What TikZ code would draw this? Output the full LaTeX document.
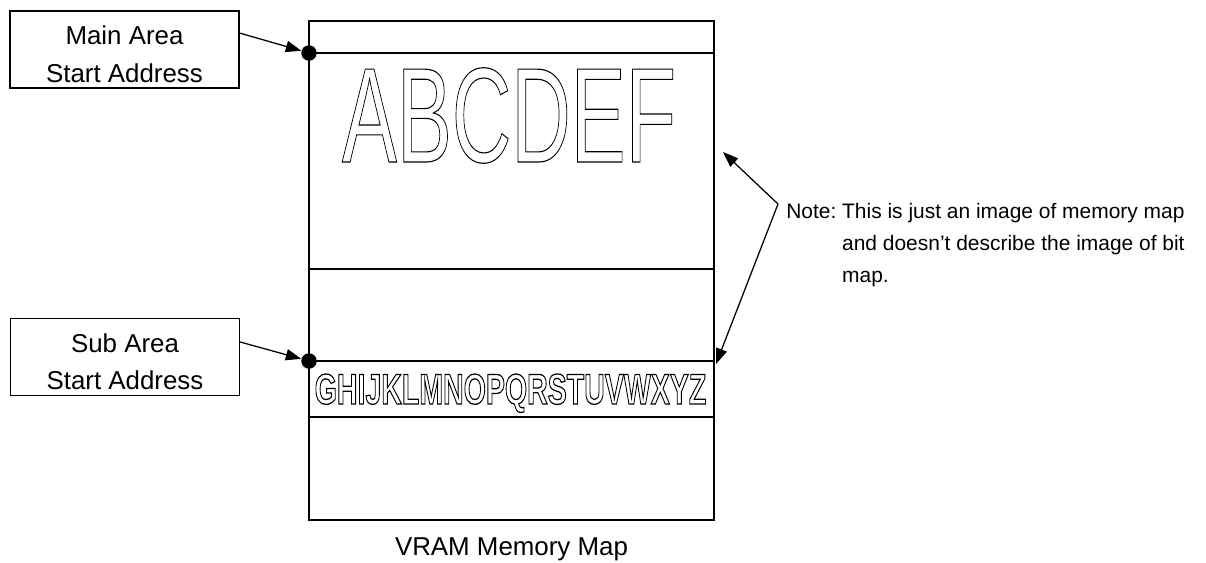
\documentclass[tikz,border=0pt]{standalone}
\usepackage{fontspec}
\setmainfont{Liberation Sans}
\usepackage{graphicx}
\usetikzlibrary{arrows.meta}

% outlined text
\newcommand\hollow[2][0.8]{\special{pdf:literal direct 1 Tr #1 w}#2\special{pdf:literal direct 0 Tr}}

\begin{document}
\begin{tikzpicture}[x=0.025cm, y=-0.025cm,
  lbl/.style={draw, line width=0.9pt, minimum width=5.725cm, minimum height=1.925cm,
    inner sep=0pt, align=center, font=\fontsize{18.4}{26.9}\selectfont},
  dot/.style={circle, fill=black, inner sep=0pt, minimum size=11pt},
  arr/.style={line width=0.9pt, -{Triangle[length=11pt, width=8pt]}}]

  \useasboundingbox (0,0) rectangle (1206,563);

  % Memory map
  \draw[line width=0.9pt] (309,21) rectangle (714,520);
  \foreach \y in {53, 269, 361, 417}
    \draw[line width=0.9pt] (309,\y) -- (714,\y);

  % Outlined letters
  \node[anchor=base, inner sep=0pt] (maintext) at (509,162)
    {\scalebox{0.61}[1]{\fontsize{96}{100}\selectfont\hollow{ABCDEF}}};
  \node[anchor=base, inner sep=0pt] (subtext) at (510.5,404)
    {\scalebox{0.663}[1]{\fontsize{30.6}{32}\selectfont\bfseries\hollow[0.9]{GHIJKLMNOPQRSTUVWXYZ}}};

  % Start markers
  \node[dot] (mainstart) at (309,53) {};
  \node[dot] (substart) at (309,361) {};

  % Labels
  \node[lbl] (mainlbl) at (124.5,49.5) {\rule{0pt}{20pt}Main Area\\Start Address};
  \node[lbl] (sublbl) at (125,357) {\rule{0pt}{20pt}Sub Area\\Start Address};
  \draw[arr] ([yshift=0.41cm]mainlbl.east) -- (mainstart);
  \draw[arr] ([yshift=0.375cm]sublbl.east) -- (substart);

  % Note
  \coordinate (notept) at (778,204);
  \coordinate (tipmain) at (723,152);
  \coordinate (tipsub) at (716,364);
  \draw[arr] (notept) -- (tipmain);
  \draw[arr] (notept) -- (tipsub);
  \node[anchor=base west, inner sep=0pt, font=\fontsize{14.9}{22.7}\selectfont] (note) at (786,219)
    {\begin{tabular}[t]{@{}l@{}l@{}}Note:~ & This is just an image of memory map\\
      & and doesn't describe the image of bit\\
      & map.\end{tabular}};

  % Caption
  \node[font=\fontsize{18.4}{22}\selectfont] (caption) at (511.5,549) {VRAM Memory Map};

\end{tikzpicture}
\end{document}
